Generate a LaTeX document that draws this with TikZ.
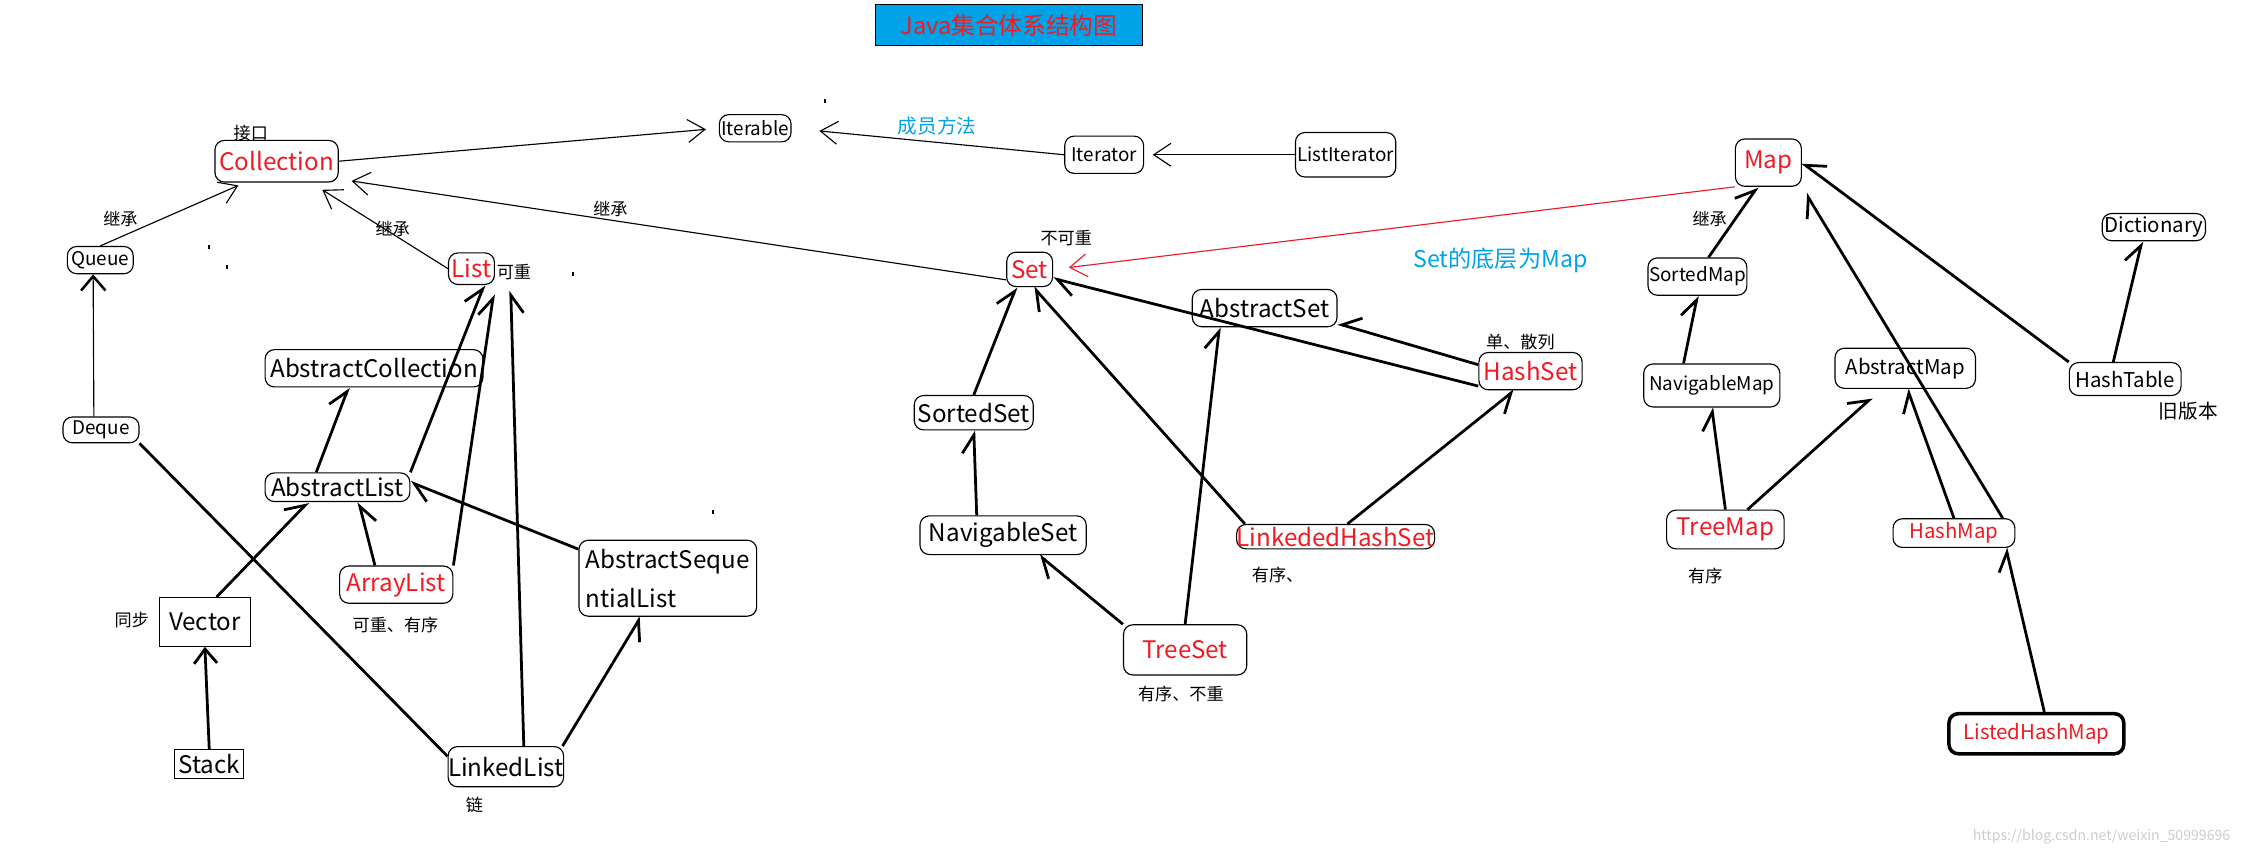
\documentclass[tikz,border=0pt]{standalone}
\usepackage{fontspec}
\setmainfont{Noto Sans CJK SC}
\usetikzlibrary{arrows.meta}
\definecolor{paintred}{RGB}{237,28,36}
\definecolor{paintblue}{RGB}{0,162,232}
\definecolor{markgray}{RGB}{205,205,205}
\begin{document}
\begin{tikzpicture}[x=0.02cm,y=-0.02cm,
  cls/.style={draw,rounded corners=0.13cm,inner sep=0pt,line width=0.45pt},
  plainbox/.style={draw,inner sep=0pt,line width=0.45pt},
  sz/.style 2 args={minimum width=#1*0.02cm,minimum height=#2*0.02cm},
  big/.style={font=\fontsize{9.6}{11.5}\selectfont},
  mid/.style={font=\fontsize{8.1}{10}\selectfont},
  sml/.style={font=\fontsize{7.5}{9}\selectfont},
  note/.style={font=\fontsize{6.8}{8}\selectfont,inner sep=0pt},
  thinarr/.style={line width=0.45pt,-{Straight Barb[length=0.24cm,width=0.32cm]}},
  heavy/.style={line width=1.1pt},
  lharp/.style={heavy,-{Straight Barb[harpoon,length=0.25cm,width=0.34cm]}},
  rharp/.style={heavy,-{Straight Barb[harpoon,swap,length=0.25cm,width=0.34cm]}}]
  \useasboundingbox (0,0) rectangle (1568,597);
  \fill[white] (0,0) rectangle (1568,597);
  \node[plainbox,sz={186}{29},fill=paintblue,text=paintred,font=\fontsize{9.4}{11}\selectfont] (title) at (704,17.5) {Java集合体系结构图};
  % Collection side
  \node[cls,sml,sz={50}{19}] (iterable) at (527,89.5) {Iterable};
  \node[cls,sml,sz={55}{26}] (iterator) at (770.5,108) {Iterator};
  \node[cls,sml,sz={70}{31}] (listiter) at (939,108) {ListIterator};
  \node[cls,big,sz={86}{29},text=paintred] (collection) at (193,112.5) {Collection};
  \node[cls,sml,sz={46}{19}] (queue) at (70,181.5) {Queue};
  \node[cls,big,sz={32}{22},text=paintred] (list) at (329,187.5) {List};
  \node[cls,sml,sz={53}{18}] (deque) at (70.5,300) {Deque};
  \node[cls,big,sz={152}{26}] (abscoll) at (261,257) {AbstractCollection};
  \node[cls,big,sz={101}{20}] (abslist) at (235.5,340) {AbstractList};
  \node[cls,big,sz={79}{26},text=paintred] (arraylist) at (276.5,408) {ArrayList};
  \node[cls,sz={124}{53},align=left,font=\fontsize{9.6}{15.6}\selectfont] (absseq) at (466,403.5) {AbstractSeque\\ntialList};
  \node[plainbox,big,sz={64}{34}] (vector) at (143,434) {Vector};
  \node[plainbox,big,sz={48}{20}] (stack) at (146,533) {Stack};
  \node[cls,big,sz={80}{28}] (linkedlist) at (353,535) {LinkedList};
  % Set side
  \node[cls,big,sz={32}{24},text=paintred] (set) at (718.5,188) {Set};
  \node[cls,big,sz={101}{26}] (abstractset) at (882.5,215) {AbstractSet};
  \node[cls,big,sz={72}{26},text=paintred] (hashset) at (1068,259) {HashSet};
  \node[cls,big,sz={83}{24}] (sortedset) at (679.5,288) {SortedSet};
  \node[cls,big,sz={116}{27}] (navset) at (700,373.5) {NavigableSet};
  \node[cls,big,sz={138}{17},text=paintred] (linkedhashset) at (932,374.5) {LinkededHashSet};
  \node[cls,big,sz={86}{35},text=paintred] (treeset) at (827,453.5) {TreeSet};
  % Map side
  \node[cls,big,sz={46}{33},text=paintred] (map) at (1234,113.5) {Map};
  \node[cls,sml,sz={69}{26}] (sortedmap) at (1184.5,193) {SortedMap};
  \node[cls,sml,sz={95}{30}] (navmap) at (1194.5,269) {NavigableMap};
  \node[cls,mid,sz={98}{28}] (absmap) at (1329.5,257) {AbstractMap};
  \node[cls,mid,sz={72}{19}] (dictionary) at (1503,158.5) {Dictionary};
  \node[cls,mid,sz={78}{23}] (hashtable) at (1483,264.5) {HashTable};
  \node[cls,big,sz={82}{27},text=paintred] (treemap) at (1204,369.5) {TreeMap};
  \node[cls,mid,sz={85}{20},text=paintred] (hashmap) at (1363.5,372) {HashMap};
  \node[cls,mid,sz={122}{28},text=paintred,line width=1.4pt] (listedhashmap) at (1421,512) {ListedHashMap};
  % remarks
  \node[note] (jiekou) at (175,93) {接口};
  \node[note] (jicheng1) at (84,153) {继承};
  \node[note] (jicheng2) at (274,160) {继承};
  \node[note] (jicheng3) at (426,146) {继承};
  \node[note] (jicheng4) at (1193,153) {继承};
  \node[note] (kechong) at (358.6,190) {可重};
  \node[note] (kechongyouxu) at (276,436) {可重、有序};
  \node[note] (tongbu) at (92,433) {同步};
  \node[note] (lian) at (331,562) {链};
  \node[note] (bukechong) at (744,166) {不可重};
  \node[note,text=paintblue,font=\fontsize{7.8}{9}\selectfont] (chengyuan) at (654,88) {成员方法};
  \node[inner sep=0pt,text=paintblue,font=\fontsize{9.2}{11}\selectfont] (dicengmap) at (1047,182) {Set的底层为Map};
  \node[note] (sanlie) at (1061,239) {单、散列};
  \node[note] (youxu1) at (891.5,401) {有序、};
  \node[note] (youxu2) at (824,484) {有序、不重};
  \node[note] (youxu3) at (1190,402) {有序};
  \node[note,font=\fontsize{7.8}{9}\selectfont] (jiubanben) at (1527,287) {旧版本};
  \node[inner sep=0pt,text=markgray,font=\fontsize{5.6}{7}\selectfont] (watermark) at (1466.5,583.5) {https://blog.csdn.net/weixin\_50999696};
  \foreach \across/\down in {145/171,158/185,399/190,497/356,575/69}
    \fill (\across,\down) rectangle ++(1.2,2.6);
  % thin connectors
  \draw[thinarr,shorten >=0.18cm] (collection.east) -- (iterable.west);
  \draw[thinarr,shorten >=0.39cm] (iterator.west) -- (iterable.east);
  \draw[thinarr,shorten >=0.12cm] (listiter.west) -- (iterator.east);
  \draw[thinarr,shorten >=0.1cm] (queue.north) -- (collection.214);
  \draw[thinarr,shorten >=0.19cm] (list.west) -- (collection.-32);
  \draw[thinarr,shorten >=0.18cm] (set.204) -- (collection.-16);
  \draw[line width=0.45pt,-{Straight Barb[length=0.2cm,width=0.34cm,line width=1pt]}] ([xshift=-0.1cm]deque.north) -- ([xshift=-0.1cm]queue.south);
  \draw[thinarr,paintred,shorten >=0.22cm] (map.south west) -- (set.east);
  % heavy connectors
  \draw[lharp] (abslist.145) -- (abscoll.217);
  \draw[lharp] (abslist.north east) -- (list.-52);
  \draw[lharp,shorten >=0.13cm] (arraylist.north east) -- (list.south east);
  \draw[rharp] (linkedlist.49) -- ([shift={(11,4)}]list.south east);
  \draw[rharp] (arraylist.138) -- (abslist.-35);
  \draw[lharp] (absseq.162) -- (abslist.4);
  \draw[rharp] (linkedlist.20) -- (absseq.235);
  \draw[lharp] (vector.65) -- (abslist.207);
  \draw[heavy,-{Straight Barb[length=0.2cm,width=0.32cm]}] (stack.north) -- (vector.south);
  \draw[heavy] (deque.south east) -- (linkedlist.170);
  \draw[lharp] (sortedset.north) -- (set.233);
  \draw[lharp] (linkedhashset.172) -- (set.-78);
  \draw[lharp] (hashset.196) -- (set.-21);
  \draw[rharp] (hashset.173) -- (abstractset.-12);
  \draw[lharp] (treeset.north) -- (abstractset.203);
  \draw[lharp] (navset.143) -- (sortedset.south);
  \draw[lharp] (treeset.north west) -- (navset.-29);
  \draw[rharp] (linkedhashset.47) -- (hashset.230);
  \draw[lharp] (sortedmap.60) -- (map.246);
  \draw[lharp] (navmap.142) -- (sortedmap.south);
  \draw[lharp] (hashtable.125) -- (dictionary.230);
  \draw[rharp] (hashtable.north west) -- (map.east);
  \draw[lharp,shorten >=0.11cm] (hashmap.17) -- (map.south east);
  \draw[lharp,shorten >=0.18cm] (treemap.42) -- (absmap.221);
  \draw[lharp] (hashmap.north) -- (absmap.-84);
  \draw[lharp] (treemap.north) -- (navmap.south);
  \draw[lharp] (listedhashmap.70) -- (hashmap.-16);
\end{tikzpicture}
\end{document}
